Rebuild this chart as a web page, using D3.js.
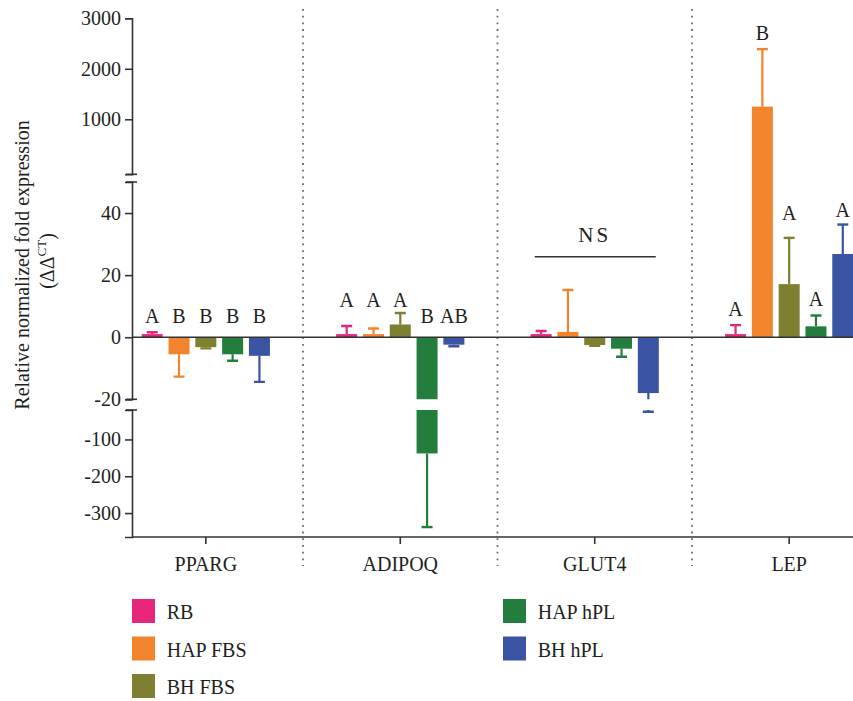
<!DOCTYPE html>
<html><head><meta charset="utf-8">
<script src="https://cdn.jsdelivr.net/npm/d3@7"></script>
<style>
body{margin:0;background:#fff}
text{font-family:"Liberation Serif","Times New Roman",serif;fill:#231f20}
</style>
</head><body>
<svg id="chart" width="853" height="701"></svg>
<script>
// ---- data ----
const genes = ["PPARG", "ADIPOQ", "GLUT4", "LEP"];
const groups = ["RB", "HAP FBS", "BH FBS", "HAP hPL", "BH hPL"];
const colors = ["#E6267B", "#F3842E", "#7F7F31", "#237E3E", "#3A53A3"];
// mean per group, ordered by genes
const meanRB     = [1.0, 1.0, 1.0, 1.0];
const meanHAPFBS = [-5.5, 1.0, 1.7, 1250];
const meanBHFBS  = [-3.2, 4.1, -2.5, 17.1];
const meanHAPhPL = [-5.5, -138, -3.7, 3.5];
const meanBHhPL  = [-6.0, -2.4, -18.0, 26.8];
// error (SD) per group
const errRB     = [0.6, 2.6, 1.0, 2.9];
const errHAPFBS = [7.2, 1.8, 13.5, 1140];
const errBHFBS  = [0.4, 3.7, 0.3, 14.9];
const errHAPhPL = [2.1, 200, 2.6, 3.5];
const errBHhPL  = [8.4, 0.5, 6.6, 9.5];
// significance letters
const lettersPPARG = ["A", "B", "B", "B", "B"];
const letterValPPARG = [4.5, 4.5, 4.5, 4.5, 4.5];
const lettersADIPOQ = ["A", "A", "A", "B", "AB"];
const letterValADIPOQ = [9.7, 9.7, 9.7, 4.5, 4.5];
const lettersLEP = ["A", "B", "A", "A", "A"];
const letterValLEP = [6.8, 2570, 37.8, 10, 38.7];
const nsLabel = "NS";
const nsGene = "GLUT4";
const nsTextVal = 30.7, nsLineVal = 25.9;
// axis ticks
const topTicks = [1000, 2000, 3000];
const midTicks = [-20, 0, 20, 40];
const botTicks = [-100, -200, -300];
const yTitle = "Relative normalized fold expression";

const means = [meanRB, meanHAPFBS, meanBHFBS, meanHAPhPL, meanBHhPL];
const errs = [errRB, errHAPFBS, errBHFBS, errHAPhPL, errBHhPL];
const letterSets = {PPARG: [lettersPPARG, letterValPPARG], ADIPOQ: [lettersADIPOQ, letterValADIPOQ], LEP: [lettersLEP, letterValLEP]};

// ---- layout ----
const svg = d3.select("#chart");
const W = 853, H = 701;
const axisX = 132;
const yTop = d3.scaleLinear().domain([-90, 3000]).range([174.3, 18.3]);
const yMid = d3.scaleLinear().domain([-20, 50]).range([399.3, 182]);
const yBot = d3.scaleLinear().domain([-365, -20]).range([537, 410]);
function y(v) { if (v > 50) return yTop(v); if (v < -20) return yBot(v); return yMid(v); }

const x = d3.scaleBand().domain(genes).range([108.6, 886.4]);
const xg = d3.scaleBand().domain(groups).range([-64.1, 64.1]).paddingInner(0.216);
const cx = g => x(g) + x.bandwidth() / 2;

const axisColor = "#333";

// separators
genes.slice(1).forEach(g => {
  svg.append("line").attr("x1", x(g)).attr("x2", x(g)).attr("y1", 9).attr("y2", 566)
    .attr("stroke", "#6a6a6a").attr("stroke-width", 1.8).attr("stroke-dasharray", "1.8,4.9");
});

// clip to hide lower axis break
const defs = svg.append("defs");
const cp = defs.append("clipPath").attr("id", "brk");
cp.append("rect").attr("x", 0).attr("y", 0).attr("width", W).attr("height", yMid(-20));
cp.append("rect").attr("x", 0).attr("y", yBot(-20)).attr("width", W).attr("height", H);

const plot = svg.append("g").attr("clip-path", "url(#brk)");

genes.forEach((g, i) => {
  groups.forEach((grp, j) => {
    const v = means[j][i], e = errs[j][i];
    const bx = cx(g) + xg(grp);
    const bw = xg.bandwidth();
    const y0 = y(0), yv = y(v);
    const col = colors[j];
    const end = v >= 0 ? v + e : v - e;
    const mx = bx + bw / 2;
    plot.append("line").attr("x1", mx).attr("x2", mx).attr("y1", yv).attr("y2", y(end))
      .attr("stroke", col).attr("stroke-width", 2.2);
    plot.append("line").attr("x1", mx - 5.5).attr("x2", mx + 5.5).attr("y1", y(end)).attr("y2", y(end))
      .attr("stroke", col).attr("stroke-width", 2.4);
    plot.append("rect").attr("x", bx).attr("width", bw)
      .attr("y", Math.min(y0, yv)).attr("height", Math.abs(y0 - yv)).attr("fill", col);
  });
});

// zero line
svg.append("line").attr("x1", axisX).attr("x2", W).attr("y1", yMid(0)).attr("y2", yMid(0))
  .attr("stroke", axisColor).attr("stroke-width", 1.6);

// y axes
const fmt = d => (d < 0 ? "-" : "") + Math.abs(d);
function drawAxis(scale, ticks) {
  const ax = svg.append("g").attr("transform", `translate(${axisX},0)`)
    .call(d3.axisLeft(scale).tickValues(ticks).tickFormat(fmt).tickSizeOuter(0).tickSize(7).tickPadding(4));
  ax.select(".domain").attr("stroke", axisColor).attr("stroke-width", 1.6);
  ax.selectAll(".tick line").attr("stroke", axisColor).attr("stroke-width", 1.6);
  ax.selectAll(".tick text").attr("font-size", 20).attr("fill", "#231f20")
    .attr("font-family", "Liberation Serif, serif");
}
drawAxis(yTop, topTicks);
drawAxis(yMid, midTicks);
drawAxis(yBot, botTicks);
// break caps
[yTop(-90), yMid(50), yMid(-20), yBot(-20)].forEach(py => {
  svg.append("line").attr("x1", axisX - 6).attr("x2", axisX + 5).attr("y1", py).attr("y2", py)
    .attr("stroke", axisColor).attr("stroke-width", 1.6);
});

// x axis
const xa = svg.append("g").attr("transform", `translate(0,${yBot(-365)})`)
  .call(d3.axisBottom(x).tickSize(7).tickPadding(13));
xa.select(".domain").remove();
xa.selectAll(".tick line").attr("stroke", axisColor).attr("stroke-width", 1.6);
xa.selectAll(".tick text").attr("font-size", 20).attr("fill", "#231f20").attr("font-family", "Liberation Serif, serif");
svg.append("line").attr("x1", axisX).attr("x2", W).attr("y1", yBot(-365)).attr("y2", yBot(-365))
  .attr("stroke", axisColor).attr("stroke-width", 1.6);

// letters
Object.entries(letterSets).forEach(([g, [labs, vals]]) => {
  labs.forEach((l, j) => {
    svg.append("text").attr("x", cx(g) + xg(groups[j]) + xg.bandwidth() / 2).attr("y", y(vals[j]))
      .attr("text-anchor", "middle").attr("font-size", 20).text(l);
  });
});
// NS bracket
svg.append("text").attr("x", cx(nsGene)).attr("y", y(nsTextVal)).attr("text-anchor", "middle")
  .attr("font-size", 21).attr("letter-spacing", 3).text(nsLabel);
svg.append("line").attr("x1", cx(nsGene) - 60).attr("x2", cx(nsGene) + 61)
  .attr("y1", y(nsLineVal)).attr("y2", y(nsLineVal)).attr("stroke", axisColor).attr("stroke-width", 1.6);

// y title
svg.append("text").attr("transform", "translate(28.5,265) rotate(-90)").attr("text-anchor", "middle")
  .attr("font-size", 20).text(yTitle);
const t2 = svg.append("text").attr("transform", "translate(54,261) rotate(-90)").attr("text-anchor", "middle")
  .attr("font-size", 20);
t2.append("tspan").text("(ΔΔ");
t2.append("tspan").attr("font-size", 13).attr("dy", -8).text("CT");
t2.append("tspan").attr("dy", 8).text(")");

// legend
const legCols = [[0, 1, 2], [3, 4]];
const legX = [132, 503];
legCols.forEach((col, ci) => {
  col.forEach((j, ri) => {
    const ly = 599 + ri * 37.5;
    svg.append("rect").attr("x", legX[ci]).attr("y", ly).attr("width", 23).attr("height", 24).attr("fill", colors[j]);
    svg.append("text").attr("x", legX[ci] + 34.7).attr("y", ly + 20).attr("font-size", 20).text(groups[j]);
  });
});
</script>
</body></html>
